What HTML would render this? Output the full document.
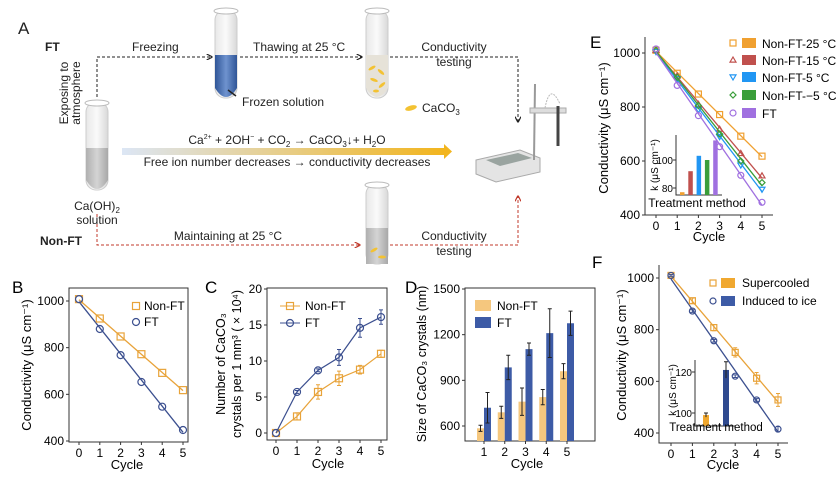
<!DOCTYPE html>
<html><head><meta charset="utf-8"><style>
html,body{margin:0;padding:0;background:#fff}
svg{display:block;font-family:"Liberation Sans","Noto Sans CJK SC",sans-serif}
</style></head><body>
<svg id="fig" width="836" height="482" viewBox="0 0 836 482">
<defs>
<linearGradient id="gArrow" x1="0" x2="1" y1="0" y2="0"><stop offset="0" stop-color="#dce6f5"/><stop offset="1" stop-color="#f2b51e"/></linearGradient>
<linearGradient id="gTube" x1="0" x2="1"><stop offset="0" stop-color="#e8e8e8"/><stop offset="0.5" stop-color="#fafafa"/><stop offset="1" stop-color="#d8d8d8"/></linearGradient>
<linearGradient id="gGrey" x1="0" x2="1"><stop offset="0" stop-color="#b0b0b0"/><stop offset="0.5" stop-color="#d4d4d4"/><stop offset="1" stop-color="#a8a8a8"/></linearGradient>
<linearGradient id="gBlue" x1="0" x2="1"><stop offset="0" stop-color="#2f5597"/><stop offset="0.5" stop-color="#6f93cf"/><stop offset="1" stop-color="#2f5597"/></linearGradient>
<marker id="mk" viewBox="0 0 10 10" refX="9" refY="5" markerWidth="6" markerHeight="6" orient="auto"><path d="M0,0 L10,5 L0,10" fill="none" stroke="#222" stroke-width="2"/></marker>
<marker id="mkr" viewBox="0 0 10 10" refX="9" refY="5" markerWidth="6" markerHeight="6" orient="auto"><path d="M0,0 L10,5 L0,10" fill="none" stroke="#c0392b" stroke-width="2"/></marker>
</defs>

<!-- Panel A -->
<g font-size="12" fill="#222">
<text x="18" y="34" font-size="17">A</text>
<text x="45" y="51" font-weight="bold">FT</text>
<text x="40" y="245" font-weight="bold">Non-FT</text>
<path d="M97,97 V57 H212" fill="none" stroke="#222" stroke-dasharray="3,2" marker-end="url(#mk)"/>
<text x="132" y="51">Freezing</text>
<path d="M240,57 H362" fill="none" stroke="#222" stroke-dasharray="3,2" marker-end="url(#mk)"/>
<text x="253" y="51">Thawing at 25 °C</text>
<path d="M390,57 H518 V122" fill="none" stroke="#222" stroke-dasharray="3,2" marker-end="url(#mk)"/>
<text x="454" y="51" text-anchor="middle">Conductivity</text>
<text x="454" y="66" text-anchor="middle">testing</text>
<path d="M97,214 V245 H360" fill="none" stroke="#c0392b" stroke-dasharray="3,2" marker-end="url(#mkr)"/>
<text x="228" y="240" text-anchor="middle">Maintaining at 25 °C</text>
<path d="M390,245 H518 V196" fill="none" stroke="#c0392b" stroke-dasharray="3,2" marker-end="url(#mkr)"/>
<text x="454" y="240" text-anchor="middle">Conductivity</text>
<text x="454" y="255" text-anchor="middle">testing</text>
<text transform="translate(68,93) rotate(-90)" text-anchor="middle">Exposing to</text>
<text transform="translate(80,93) rotate(-90)" text-anchor="middle">atmosphere</text>
<g><rect x="86" y="102" width="22" height="88" rx="10" fill="url(#gTube)" stroke="#ccc"/><path d="M86,148 H108 V180 Q97,198 86,180Z" fill="url(#gGrey)"/><ellipse cx="97" cy="103" rx="12" ry="3" fill="#fff" stroke="#bbb"/></g>
<text x="97" y="210" text-anchor="middle">Ca(OH)<tspan font-size="8" dy="3">2</tspan></text>
<text x="97" y="224" text-anchor="middle">solution</text>
<g><rect x="215" y="10" width="22" height="88" rx="10" fill="url(#gTube)" stroke="#ccc"/><path d="M215,55 H237 V88 Q226,106 215,88Z" fill="url(#gBlue)"/><ellipse cx="226" cy="11" rx="12" ry="3" fill="#fff" stroke="#bbb"/><path d="M228,90 L236,96" stroke="#222" stroke-width="1.5"/></g>
<text x="242" y="106">Frozen solution</text>
<g><rect x="366" y="10" width="22" height="88" rx="10" fill="url(#gTube)" stroke="#ccc"/><path d="M366,55 H388 V88 Q377,106 366,88Z" fill="#e6e2d8"/><ellipse cx="377" cy="11" rx="12" ry="3" fill="#fff" stroke="#bbb"/>
<g fill="#f3c232"><ellipse cx="372" cy="68" rx="4" ry="1.5" transform="rotate(-30 372 68)"/><ellipse cx="381" cy="72" rx="4" ry="1.5" transform="rotate(40 381 72)"/><ellipse cx="374" cy="80" rx="4" ry="1.5" transform="rotate(20 374 80)"/><ellipse cx="382" cy="85" rx="4" ry="1.5" transform="rotate(-40 382 85)"/><ellipse cx="376" cy="91" rx="3" ry="1.5"/></g></g>
<g><rect x="366" y="184" width="22" height="80" rx="10" fill="url(#gTube)" stroke="#ccc"/><path d="M366,228 H388 V264 H366Z" fill="url(#gGrey)"/><ellipse cx="377" cy="185" rx="12" ry="3" fill="#fff" stroke="#bbb"/><g fill="#f3c232"><ellipse cx="374" cy="250" rx="4" ry="1.5" transform="rotate(-30 374 250)"/><ellipse cx="382" cy="257" rx="4" ry="1.5"/></g></g>
<ellipse cx="411" cy="108" rx="6" ry="2.5" fill="#f3c232" transform="rotate(-15 411 108)"/>
<text x="422" y="112">CaCO<tspan font-size="8" dy="3">3</tspan></text>
<rect x="122" y="148" width="322" height="7" fill="url(#gArrow)"/>
<path d="M444,144 L452,151.5 L444,159Z" fill="#f2b51e"/>
<text x="287" y="144" text-anchor="middle">Ca<tspan font-size="7" dy="-5">2+</tspan><tspan dy="5"> + 2OH</tspan><tspan font-size="7" dy="-5">−</tspan><tspan dy="5"> + CO</tspan><tspan font-size="8" dy="3">2</tspan><tspan dy="-3"> → CaCO</tspan><tspan font-size="8" dy="3">3</tspan><tspan dy="-3">↓+  H</tspan><tspan font-size="8" dy="3">2</tspan><tspan dy="-3">O</tspan></text>
<text x="287" y="166" text-anchor="middle">Free ion number decreases → conductivity decreases</text>
<g>
<path d="M476,160 L520,150 L540,158 L540,172 L496,182 L476,174Z" fill="#e4e4e4" stroke="#aaa"/>
<path d="M486,160 L518,153 L532,158 L500,166Z" fill="#9aa4a0"/>
<line x1="535" y1="84" x2="534" y2="160" stroke="#999" stroke-width="2"/>
<rect x="530" y="108" width="36" height="5" fill="#ddd" stroke="#aaa"/>
<line x1="558" y1="106" x2="558" y2="146" stroke="#444" stroke-width="3"/>
<path d="M545,108 Q550,82 560,104" fill="none" stroke="#bbb" stroke-dasharray="2,1"/>
</g>
</g>

<g id="charts"></g>
</svg>
<script>
// ===== data =====
const cycles=[0,1,2,3,4,5];
const bNonFT=[1008,925,848,772,692,618];
const bFT=[1008,880,768,653,547,447];
const bTicks=[400,600,800,1000];
const cNonFT=[0,2.3,5.7,7.6,8.8,11];
const cNonFTErr=[0,0.5,1,1,0.6,0.5];
const cFT=[0,5.7,8.7,10.5,14.6,16.1];
const cFTErr=[0,0.2,0.2,1.1,1.3,1];
const cTicks=[0,5,10,15,20];
const dCats=[1,2,3,4,5];
const dNonFT=[585,690,760,790,960];
const dNonFTErr=[20,40,90,50,50];
const dFT=[720,985,1105,1210,1275];
const dFTErr=[100,80,40,160,80];
const dTicks=[600,900,1200,1500];
const eNames=["Non-FT-25 °C","Non-FT-15 °C","Non-FT-5 °C","Non-FT-−5 °C","FT"];
const eS25=[1010,925,848,772,692,618];
const eS15=[1010,915,810,718,628,545];
const eS5=[1005,905,790,690,585,495];
const eSm5=[1010,910,805,700,600,520];
const eSFT=[1015,880,768,653,547,447];
const eK=[77,92,103,100,114];
const eKTicks=[80,100];
const eTicks=[400,600,800,1000];
const fSuper=[1010,912,808,712,612,528];
const fSuperErr=[5,10,12,18,22,25];
const fIce=[1010,872,757,620,528,415];
const fIceErr=[3,5,5,5,5,10];
const fK=[99,121];
const fKErr=[1,4];
const fKTicks=[100,120];
const fTicks=[400,600,800,1000];

const NS="http://www.w3.org/2000/svg";
const root=document.getElementById('charts');
function el(tag,attrs,parent){const e=document.createElementNS(NS,tag);for(const k in attrs)e.setAttribute(k,attrs[k]);(parent||root).appendChild(e);return e;}
function txt(x,y,s,attrs,parent){const t=el('text',Object.assign({x:x,y:y},attrs||{}),parent);t.textContent=s;return t;}
function lin(d0,d1,r0,r1){return v=>r0+(v-d0)/(d1-d0)*(r1-r0);}
const ORANGE="#e8a33a",NAVY="#3b4f8f";

function marker(g,type,x,y,color,r){
  r=r||3.5;let m;
  if(type==='sq')m=el('rect',{x:x-r,y:y-r,width:2*r,height:2*r,fill:'none',stroke:color,'stroke-width':1.2},g);
  else if(type==='ci')m=el('circle',{cx:x,cy:y,r:r,fill:'none',stroke:color,'stroke-width':1.2},g);
  else if(type==='tu')m=el('path',{d:`M${x},${y-r} L${x+r},${y+r*0.7} L${x-r},${y+r*0.7}Z`,fill:'none',stroke:color,'stroke-width':1.2},g);
  else if(type==='td')m=el('path',{d:`M${x},${y+r} L${x+r},${y-r*0.7} L${x-r},${y-r*0.7}Z`,fill:'none',stroke:color,'stroke-width':1.2},g);
  else m=el('path',{d:`M${x},${y-r} L${x+r},${y} L${x},${y+r} L${x-r},${y}Z`,fill:'none',stroke:color,'stroke-width':1.2},g);
  
  
  return m;
}
function axes(g,L,R,T,B,sx,sy,xt,yt,box,fs){
  fs=fs||12;
  el('path',{d:box?`M${L},${T} H${R} V${B} H${L}Z`:`M${L},${T} V${B} H${R}`,fill:'none',stroke:'#333','stroke-width':1},g);
  xt.forEach(v=>{const x=sx(v);el('line',{x1:x,x2:x,y1:B,y2:B+3,stroke:'#333'},g);const t=txt(x,B+15,String(v),{'text-anchor':'middle','font-size':fs},g);});
  yt.forEach(v=>{const y=sy(v);el('line',{x1:L,x2:L-3,y1:y,y2:y,stroke:'#333'},g);const t=txt(L-5,y+4,String(v),{'text-anchor':'end','font-size':fs},g);});
}
function lineSeries(g,xs,ys,sx,sy,color,type,name,err){
  const p=el('polyline',{points:xs.map((c,i)=>sx(c)+','+sy(ys[i])).join(' '),fill:'none',stroke:color,'stroke-width':1.2},g);
  
  
  xs.forEach((c,i)=>{
    if(err&&err[i]){const x=sx(c);el('path',{d:`M${x},${sy(ys[i]+err[i])} V${sy(ys[i]-err[i])} M${x-2},${sy(ys[i]+err[i])} H${x+2} M${x-2},${sy(ys[i]-err[i])} H${x+2}`,stroke:color,fill:'none'},g);}
    marker(g,type,sx(c),sy(ys[i]),color);
  });
}
function fitLine(g,xs,ys,sx,sy,color,name){
  const n=xs.length,mx=xs.reduce((a,b)=>a+b)/n,my=ys.reduce((a,b)=>a+b)/n;
  let num=0,den=0;xs.forEach((x,i)=>{num+=(x-mx)*(ys[i]-my);den+=(x-mx)*(x-mx);});
  const k=num/den,b=my-k*mx;
  const l=el('line',{x1:sx(xs[0]),y1:sy(k*xs[0]+b),x2:sx(xs[n-1]),y2:sy(k*xs[n-1]+b),stroke:color,'stroke-width':1.3},g);
  
  
}

// ===== Panel B =====
(function(){
  const g=el('g',{});
  
  
  const L=69,R=188,T=288,B=442;
  const sx=lin(0,5,79,183),sy=lin(400,1000,441,301);
  axes(g,L,R,T,B,sx,sy,cycles,bTicks,true);
  fitLine(g,cycles,bNonFT,sx,sy,ORANGE,'b-non-ft');
  fitLine(g,cycles,bFT,sx,sy,NAVY,'b-ft');
  cycles.forEach((c,i)=>marker(g,'sq',sx(c),sy(bNonFT[i]),ORANGE));
  cycles.forEach((c,i)=>marker(g,'ci',sx(c),sy(bFT[i]),NAVY));
  marker(g,'sq',136,306,ORANGE);marker(g,'ci',136,322,NAVY);
  txt(144,310,'Non-FT',{'font-size':12},g);
  txt(144,326,'FT',{'font-size':12},g);
  txt(12,293,'B',{'font-size':17},g);
  const yl=txt(0,0,'Conductivity (μS cm⁻¹)',{'font-size':13,'text-anchor':'middle',transform:'translate(31,365) rotate(-90)'},g);
  
  const xl=txt(127,469,'Cycle',{'font-size':13,'text-anchor':'middle'},g);
  
})();

// ===== Panel C =====
(function(){
  const g=el('g',{});
  
  
  const L=267,R=387,T=288,B=440;
  const sx=lin(0,5,276,381),sy=lin(0,20,433,289);
  axes(g,L,R,T,B,sx,sy,cycles,cTicks,true);
  lineSeries(g,cycles,cNonFT,sx,sy,ORANGE,'sq','c-non-ft',cNonFTErr);
  lineSeries(g,cycles,cFT,sx,sy,NAVY,'ci','c-ft',cFTErr);
  el('line',{x1:280,x2:300,y1:306,y2:306,stroke:ORANGE},g);marker(g,'sq',290,306,ORANGE);
  el('line',{x1:280,x2:300,y1:323,y2:323,stroke:NAVY},g);marker(g,'ci',290,323,NAVY);
  txt(305,310,'Non-FT',{'font-size':12},g);
  txt(305,327,'FT',{'font-size':12},g);
  txt(205,293,'C',{'font-size':17},g);
  const y1=txt(0,0,'Number of CaCO₃',{'font-size':12.5,'text-anchor':'middle',transform:'translate(225,364) rotate(-90)'},g);
  
  const y2=txt(0,0,'crystals per 1 mm³ ( × 10⁴)',{'font-size':12.5,'text-anchor':'middle',transform:'translate(241,364) rotate(-90)'},g);
  
  txt(328,468,'Cycle',{'font-size':13,'text-anchor':'middle'},g);
})();

// ===== Panel D =====
(function(){
  const g=el('g',{});
  
  
  const L=465,R=595,T=288,B=441;
  const sx=lin(1,5,484,567),sy=lin(600,1500,426,289);
  el('path',{d:`M${L},${T} H${R} V${B} H${L}Z`,fill:'none',stroke:'#333'},g);
  dTicks.forEach(v=>{el('line',{x1:L,x2:L-3,y1:sy(v),y2:sy(v),stroke:'#333'},g);txt(L-5,sy(v)+4,String(v),{'text-anchor':'end','font-size':12},g);});
  dCats.forEach((c,i)=>{
    const x=sx(c);
    el('line',{x1:x,x2:x,y1:B,y2:B+3,stroke:'#333'},g);
    txt(x,B+15,String(c),{'text-anchor':'middle','font-size':12},g);
    [[dNonFT,dNonFTErr,'#f5c77e',x-7,'bar-non-ft'],[dFT,dFTErr,'#3d5ba6',x,'bar-ft']].forEach(s=>{
      const v=s[0][i],e=s[1][i];
      const r=el('rect',{x:s[3],y:sy(v),width:7,height:B-sy(v),fill:s[2]},g);
      
      
      const cx=s[3]+3.5;
      el('path',{d:`M${cx},${sy(v+e)} V${sy(v-e)} M${cx-2},${sy(v+e)} H${cx+2} M${cx-2},${sy(v-e)} H${cx+2}`,stroke:'#222',fill:'none'},g);
    });
  });
  el('rect',{x:475,y:300,width:16,height:11,fill:'#f5c77e'},g);
  el('rect',{x:475,y:317,width:16,height:11,fill:'#3d5ba6'},g);
  txt(497,310,'Non-FT',{'font-size':12},g);
  txt(497,327,'FT',{'font-size':12},g);
  txt(405,293,'D',{'font-size':17},g);
  txt(0,0,'Size of CaCO₃ crystals (nm)',{'font-size':12.5,'text-anchor':'middle',transform:'translate(426,364) rotate(-90)'},g);
  txt(527,468,'Cycle',{'font-size':13,'text-anchor':'middle'},g);
})();

// ===== Panel E =====
(function(){
  const g=el('g',{});
  
  
  const L=645,R=773,T=37,B=215;
  const sx=lin(0,5,656,762),sy=lin(400,1000,215,53);
  axes(g,L,R,T,B,sx,sy,cycles,eTicks,false);
  const series=[eS25,eS15,eS5,eSm5,eSFT];
  const cols=['#f0a030','#c0504d','#2196f3','#3a9e3a','#a070e0'];
  const mk=['sq','tu','td','di','ci'];
  series.forEach((s,j)=>{fitLine(g,cycles,s,sx,sy,cols[j],'e-series-'+j);cycles.forEach((c,i)=>marker(g,mk[j],sx(c),sy(s[i]),cols[j],3));});
  const rows=[43,60,77,95,113];
  eNames.forEach((n,j)=>{
    marker(g,mk[j],733,rows[j],cols[j],3);
    el('rect',{x:742,y:rows[j]-5,width:14,height:10,fill:cols[j]},g);
    const t=txt(762,rows[j]+5,n,{'font-size':12},g);
    
    
  });
  const iL=676,iB=195,iT=135;
  const ky=lin(80,100,188,160);
  el('path',{d:`M${iL},${iT} V${iB} H${iL+46}`,fill:'none',stroke:'#333'},g);
  eKTicks.forEach(v=>{el('line',{x1:iL,x2:iL-3,y1:ky(v),y2:ky(v),stroke:'#333'},g);txt(iL-3,ky(v)+4,String(v),{'text-anchor':'end','font-size':10},g);});
  eK.forEach((v,i)=>{
    const x=iL+4+i*8.3;
    const r=el('rect',{x:x,y:ky(v),width:4.5,height:iB-ky(v),fill:cols[i]},g);
    
    
  });
  txt(697,207,'Treatment method',{'font-size':12,'text-anchor':'middle'},g);
  txt(0,0,'k (μS cm⁻¹)',{'font-size':10,'text-anchor':'middle',transform:'translate(658,165) rotate(-90)'},g);
  txt(590,48,'E',{'font-size':17},g);
  txt(0,0,'Conductivity (μS cm⁻¹)',{'font-size':13,'text-anchor':'middle',transform:'translate(608,128) rotate(-90)'},g);
  txt(709,241,'Cycle',{'font-size':13,'text-anchor':'middle'},g);
})();

// ===== Panel F =====
(function(){
  const g=el('g',{});
  
  
  const L=659,R=788,T=265,B=443;
  const sx=lin(0,5,671,778),sy=lin(400,1000,433,278);
  axes(g,L,R,T,B,sx,sy,cycles,fTicks,false);
  fitLine(g,cycles,fSuper,sx,sy,ORANGE,'f-supercooled');
  fitLine(g,cycles,fIce,sx,sy,NAVY,'f-ice');
  cycles.forEach((c,i)=>{
    [[fSuper,fSuperErr,ORANGE,'sq'],[fIce,fIceErr,NAVY,'ci']].forEach(s=>{
      const x=sx(c),v=s[0][i],e=s[1][i];
      el('path',{d:`M${x},${sy(v+e)} V${sy(v-e)} M${x-2},${sy(v+e)} H${x+2} M${x-2},${sy(v-e)} H${x+2}`,stroke:s[2],fill:'none'},g);
      marker(g,s[3],x,sy(v),s[2],3);
    });
  });
  marker(g,'sq',713,283,ORANGE,3);el('rect',{x:721,y:278,width:14,height:10,fill:'#f0a830'},g);
  marker(g,'ci',713,301,NAVY,3);el('rect',{x:721,y:296,width:14,height:10,fill:'#3d5ba6'},g);
  txt(742,287,'Supercooled',{'font-size':12},g);
  txt(742,305,'Induced to ice',{'font-size':12},g);
  const iL=695,iB=426,iT=360;
  const ky=lin(100,120,413,372);
  el('path',{d:`M${iL},${iT} V${iB} H${iL+40}`,fill:'none',stroke:'#333'},g);
  fKTicks.forEach(v=>{el('line',{x1:iL,x2:iL-3,y1:ky(v),y2:ky(v),stroke:'#333'},g);txt(iL-3,ky(v)+4,String(v),{'text-anchor':'end','font-size':10},g);});
  const fc=['#f0a830','#2f4a8f'];
  fK.forEach((v,i)=>{
    const x=iL+8+i*20;
    const r=el('rect',{x:x,y:ky(v),width:6,height:iB-ky(v),fill:fc[i]},g);
    
    
    el('path',{d:`M${x+3},${ky(v+fKErr[i])} V${ky(v-fKErr[i])} M${x+1},${ky(v+fKErr[i])} H${x+5}`,stroke:'#222',fill:'none'},g);
  });
  txt(716,431,'Treatment method',{'font-size':11.5,'text-anchor':'middle'},g);
  txt(0,0,'k (μS cm⁻¹)',{'font-size':10,'text-anchor':'middle',transform:'translate(676,390) rotate(-90)'},g);
  txt(592,268,'F',{'font-size':17},g);
  txt(0,0,'Conductivity (μS cm⁻¹)',{'font-size':13,'text-anchor':'middle',transform:'translate(626,355) rotate(-90)'},g);
  txt(723,469,'Cycle',{'font-size':13,'text-anchor':'middle'},g);
})();
</script>
</body></html>
